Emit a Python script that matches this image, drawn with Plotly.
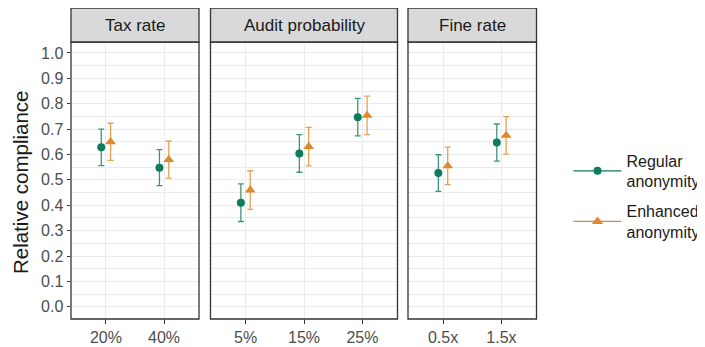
import plotly.graph_objects as go

# The page body has an 8px default margin, so the figure is drawn at (8, 8).
OFF = 8
W, H = 705 - OFF, 347 - OFF

facets = ["Tax rate", "Audit probability", "Fine rate"]
tick_labels = [["20%", "40%"], ["5%", "15%", "25%"], ["0.5x", "1.5x"]]

regular_mean = [[0.628, 0.548], [0.410, 0.604, 0.747], [0.527, 0.647]]
regular_err = [[0.072, 0.071], [0.074, 0.074, 0.074], [0.072, 0.073]]
enhanced_mean = [[0.650, 0.580], [0.460, 0.631, 0.754], [0.555, 0.675]]
enhanced_err = [[0.073, 0.073], [0.076, 0.076, 0.076], [0.074, 0.074]]

GREEN = "#0E7A5E"
ORANGE = "#E0892C"
GREEN_EB = "rgba(14,122,94,0.8)"
ORANGE_EB = "rgba(224,137,44,0.8)"

# reference-picture pixel geometry
panels_px = [(71, 199), (210.5, 397.5), (408, 536.5)]
top_px, bot_px = 42, 319
strip_top = 8

def px_x(p):
    return (p - OFF) / W

def px_y(p):
    return (H - (p - OFF)) / H

fig = go.Figure()
dodge = 0.08
for i, labs in enumerate(tick_labels):
    xa = "x" if i == 0 else f"x{i+1}"
    ya = "y" if i == 0 else f"y{i+1}"
    pos = list(range(1, len(labs) + 1))
    fig.add_trace(go.Scatter(
        x=[p - dodge for p in pos], y=regular_mean[i], xaxis=xa, yaxis=ya,
        mode="markers", marker=dict(color=GREEN, size=8, symbol="circle"),
        error_y=dict(type="data", array=regular_err[i], color=GREEN_EB, thickness=1.3, width=3),
        showlegend=False))
    fig.add_trace(go.Scatter(
        x=[p + dodge for p in pos], y=enhanced_mean[i], xaxis=xa, yaxis=ya,
        mode="markers", marker=dict(color=ORANGE, size=9.5, symbol="triangle-up"),
        error_y=dict(type="data", array=enhanced_err[i], color=ORANGE_EB, thickness=1.3, width=3),
        showlegend=False))

fig.add_trace(go.Scatter(x=[None], y=[None], mode="lines+markers", name="Regular<br>anonymity",
                         legendgroup="a",
                         line=dict(color=GREEN, width=1.3), marker=dict(color=GREEN, size=8)))
fig.add_trace(go.Scatter(x=[None], y=[None], mode="lines+markers", name="Enhanced<br>anonymity",
                         legendgroup="b",
                         line=dict(color=ORANGE, width=1.3),
                         marker=dict(color=ORANGE, size=10, symbol="triangle-up")))

yrange = [-0.048, 1.043]
ydom = [px_y(bot_px), px_y(top_px)]
ytv = [round(0.1 * k, 1) for k in range(11)]
ymv = [round(0.05 + 0.1 * k, 2) for k in range(10)]

layout = dict(
    width=W, height=H, margin=dict(l=0, r=0, t=0, b=0, autoexpand=False),
    paper_bgcolor="white", plot_bgcolor="white",
    font=dict(family="Liberation Sans, Arial, sans-serif", color="#1A1A1A"),
    legend=dict(x=px_x(568.5), y=px_y(196.5), xanchor="left", yanchor="middle",
                font=dict(size=16, color="#1A1A1A"), tracegroupgap=6,
                traceorder="grouped", itemwidth=48, bgcolor="rgba(0,0,0,0)"),
)

for i, labs in enumerate(tick_labels):
    key = "xaxis" if i == 0 else f"xaxis{i+1}"
    l, r = panels_px[i]
    layout[key] = dict(
        domain=[px_x(l), px_x(r)], anchor="y" if i == 0 else f"y{i+1}",
        range=[0.4, len(labs) + 0.6],
        tickvals=list(range(1, len(labs) + 1)), ticktext=labs,
        showgrid=True, gridcolor="#EBEBEB", gridwidth=1.1, zeroline=False,
        ticks="outside", ticklen=3.5, tickcolor="#333333", tickwidth=1,
        tickfont=dict(size=16, color="#4D4D4D"), showline=False, fixedrange=True,
        automargin=False,
    )

for i in range(3):
    key = "yaxis" if i == 0 else f"yaxis{i+1}"
    d = dict(
        domain=ydom, range=yrange, anchor="x" if i == 0 else f"x{i+1}",
        tickvals=ytv, ticktext=[f"{v:.1f}" for v in ytv],
        showgrid=True, gridcolor="#EBEBEB", gridwidth=1.1, zeroline=False,
        minor=dict(tickvals=ymv, showgrid=True, gridcolor="#EBEBEB", gridwidth=0.55, ticks=""),
        automargin=False, fixedrange=True,
    )
    if i == 0:
        d.update(ticks="outside", ticklen=3.5, tickcolor="#333333", tickwidth=1,
                 tickfont=dict(size=16, color="#4D4D4D"))
    else:
        d.update(showticklabels=False, ticks="")
    layout[key] = d
fig.update_layout(**layout)

shapes = []
for i, (l, r) in enumerate(panels_px):
    shapes.append(dict(type="rect", xref="paper", yref="paper",
                       x0=px_x(l), x1=px_x(r), y0=px_y(bot_px), y1=px_y(top_px),
                       line=dict(color="#333333", width=1.3), fillcolor="rgba(0,0,0,0)", layer="above"))
    shapes.append(dict(type="rect", xref="paper", yref="paper",
                       x0=px_x(l), x1=px_x(r), y0=px_y(top_px), y1=px_y(strip_top),
                       line=dict(color="#333333", width=1.3), fillcolor="#D9D9D9", layer="above"))
fig.update_layout(shapes=shapes)

ann = []
for i, (l, r) in enumerate(panels_px):
    ann.append(dict(text=facets[i], xref="paper", yref="paper",
                    x=px_x((l + r) / 2), y=px_y((top_px + strip_top) / 2),
                    xanchor="center", yanchor="middle", showarrow=False,
                    font=dict(size=17, color="#1A1A1A")))
ann.append(dict(text="Relative compliance", xref="paper", yref="paper",
                x=px_x(20), y=px_y(183), xanchor="center", yanchor="middle",
                textangle=-90, showarrow=False, font=dict(size=20.5, color="#1A1A1A")))
fig.update_layout(annotations=ann)

fig.write_html("out.html")
